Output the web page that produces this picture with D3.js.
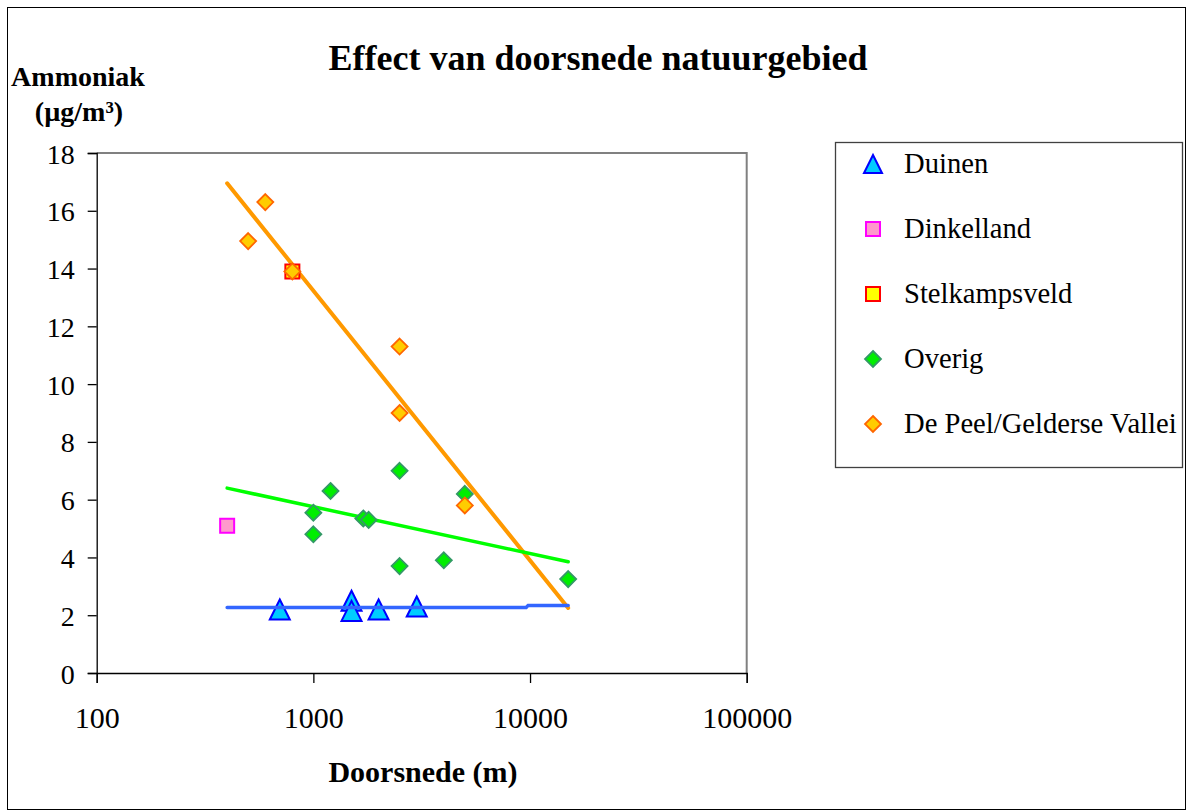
<!DOCTYPE html>
<html>
<head>
<meta charset="utf-8">
<script src="https://cdn.jsdelivr.net/npm/d3@7/dist/d3.min.js"></script>
<style>
  html, body { margin: 0; padding: 0; background: #fff; }
  svg { display: block; }
</style>
</head>
<body>
<svg id="chart" width="1187" height="811"></svg>
<script>
// Measurements: diameter of nature area (m) vs ammonia concentration (µg/m³)
const duinen = [[700, 2.2], [1500, 2.5], [1500, 2.15], [2000, 2.2], [3000, 2.3]];
const dinkelland = [[400, 5.1]];
const stelkampsveld = [[800, 13.9]];
const overig = [
  [1000, 4.8], [1000, 5.55], [1200, 6.3], [1700, 5.35], [1800, 5.3],
  [2500, 7.0], [2500, 3.7], [4000, 3.9], [5000, 6.2], [15000, 3.25]
];
const peel = [[500, 14.95], [600, 16.3], [800, 13.9], [2500, 11.3], [2500, 9.0], [5000, 5.8]];

// Logarithmic trend lines
const trendPeel = [[400, 16.95], [15000, 2.25]];
const trendOverig = [[400, 6.4], [15000, 3.85]];
const trendDuinen = [[400, 2.27], [9600, 2.27], [9800, 2.34], [15000, 2.34]];

const xTicks = [100, 1000, 10000, 100000];
const yTicks = [0, 2, 4, 6, 8, 10, 12, 14, 16, 18];

const FONT = "Liberation Serif, Times New Roman, Times, serif";

const svg = d3.select("#chart").attr("font-family", FONT);

const x = d3.scaleLog().domain([100, 100000]).range([96.7, 746.7]);
const y = d3.scaleLinear().domain([0, 18]).range([673, 153]);

// outer frame
svg.append("rect").attr("x", 7.5).attr("y", 7.5).attr("width", 1178).attr("height", 802)
  .attr("fill", "#fff").attr("stroke", "#000").attr("stroke-width", 1);

// plot frame: grey top/right
svg.append("path")
  .attr("d", `M${x(100)},${y(18)}H${x(100000)}V${y(0)}`)
  .attr("fill", "none").attr("stroke", "#808080").attr("stroke-width", 2);

// y axis
const yAxis = svg.append("g").attr("transform", `translate(${x(100)},0)`)
  .call(d3.axisLeft(y).tickValues(yTicks).tickSize(9).tickPadding(0).tickFormat(d3.format("d")));
yAxis.attr("font-family", FONT).attr("font-size", 28);
yAxis.select(".domain").attr("stroke", "#000").attr("stroke-width", 1.3);
yAxis.selectAll(".tick line").attr("stroke", "#000").attr("stroke-width", 1.3);
yAxis.selectAll(".tick text")
  .attr("x", -22).attr("dy", "0.36em")
  .attr("font-family", FONT).attr("font-size", 28).attr("fill", "#000");

// x axis
const xAxis = svg.append("g").attr("transform", `translate(0,${y(0)})`)
  .call(d3.axisBottom(x).tickValues(xTicks).tickSize(10).tickFormat(d3.format("d")));
xAxis.attr("font-family", FONT).attr("font-size", 30);
xAxis.select(".domain").attr("stroke", "#000").attr("stroke-width", 1.3);
xAxis.selectAll(".tick line").attr("stroke", "#000").attr("stroke-width", 1.3);
xAxis.selectAll(".tick text")
  .attr("y", 55).attr("dy", 0)
  .attr("font-family", FONT).attr("font-size", 30).attr("fill", "#000");

// titles
function label(tx, ty, size, str) {
  svg.append("text").attr("x", tx).attr("y", ty).attr("text-anchor", "middle")
    .attr("font-family", FONT).attr("font-size", size).attr("font-weight", "bold")
    .attr("fill", "#000").text(str);
}
label(598, 70, 36, "Effect van doorsnede natuurgebied");
label(78, 86, 28, "Ammoniak");
label(79, 121, 28, "(µg/m³)");
label(423, 782, 30, "Doorsnede (m)");

const line = d3.line().x(d => x(d[0])).y(d => y(d[1]));

// marker shapes
const shapes = {
  triangle: s => `M0,${-s}L${s},${s}L${-s},${s}Z`,
  square: s => `M${-s},${-s}H${s}V${s}H${-s}Z`,
  diamond: s => `M0,${-s}L${s},0L0,${s}L${-s},0Z`
};

const series = [
  { name: "Duinen", data: duinen, shape: "triangle", size: 10, fill: "#00CCFF", stroke: "#0000FF", sw: 2 },
  { name: "Dinkelland", data: dinkelland, shape: "square", size: 7, fill: "#FF99CC", stroke: "#FF00FF", sw: 2 },
  { name: "Stelkampsveld", data: stelkampsveld, shape: "square", size: 7, fill: "#FFFF00", stroke: "#FF0000", sw: 2 },
  { name: "Overig", data: overig, shape: "diamond", size: 8, fill: "#00EE00", stroke: "#339966", sw: 1.8 },
  { name: "De Peel/Gelderse Vallei", data: peel, shape: "diamond", size: 8, fill: "#FFCC00", stroke: "#FF6600", sw: 1.8 }
];

function drawTrend(data, color, w) {
  svg.append("path").attr("d", line(data)).attr("fill", "none")
    .attr("stroke", color).attr("stroke-width", w).attr("stroke-linecap", "round");
}

function drawPoints(s) {
  svg.append("g").selectAll("path").data(s.data).join("path")
    .attr("transform", d => `translate(${x(d[0])},${y(d[1])})`)
    .attr("d", shapes[s.shape](s.size))
    .attr("fill", s.fill).attr("stroke", s.stroke).attr("stroke-width", s.sw)
    .attr("stroke-linejoin", "miter");
}

drawTrend(trendPeel, "#FF9900", 4);
drawTrend(trendOverig, "#00FF00", 3.5);
drawPoints(series[0]);
drawTrend(trendDuinen, "#3366FF", 3.5);
drawPoints(series[1]);
drawPoints(series[2]);
drawPoints(series[3]);
drawPoints(series[4]);

// legend
const lg = svg.append("g");
lg.append("rect").attr("x", 835.5).attr("y", 142.5).attr("width", 347).attr("height", 325)
  .attr("fill", "#fff").attr("stroke", "#404040").attr("stroke-width", 1.3);
series.forEach((s, i) => {
  const cy = 164 + i * 65;
  const sz = s.shape === "triangle" ? 9 : (s.shape === "square" ? 7 : 8);
  lg.append("path").attr("transform", `translate(873,${cy})`)
    .attr("d", shapes[s.shape](sz))
    .attr("fill", s.fill).attr("stroke", s.stroke).attr("stroke-width", s.sw);
  lg.append("text").attr("x", 904).attr("y", cy + 9)
    .attr("font-family", FONT).attr("font-size", 28.6).attr("fill", "#000")
    .text(s.name);
});
</script>
</body>
</html>
